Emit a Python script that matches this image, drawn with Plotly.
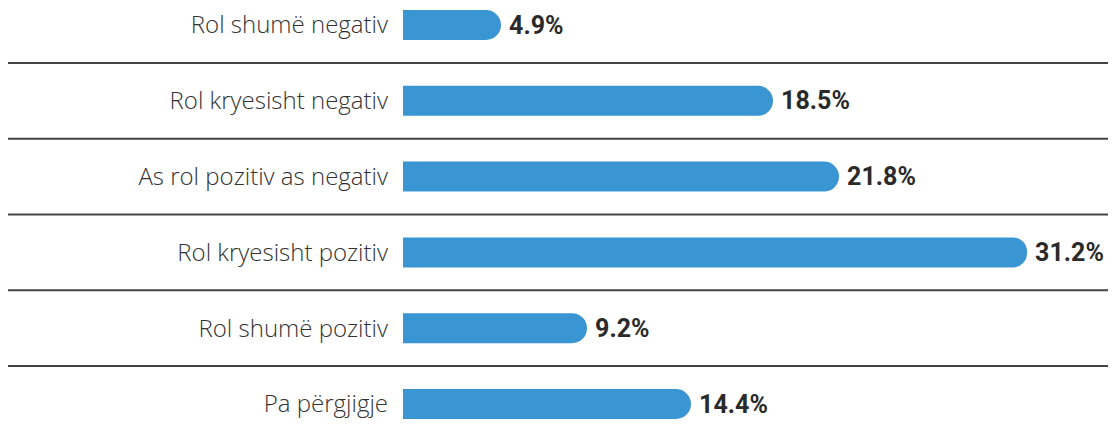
import plotly.graph_objects as go

categories = [
    "Rol shumë negativ",
    "Rol kryesisht negativ",
    "As rol pozitiv as negativ",
    "Rol kryesisht pozitiv",
    "Rol shumë pozitiv",
    "Pa përgjigje",
]
values = [4.9, 18.5, 21.8, 31.2, 9.2, 14.4]
value_labels = [f"\u2009{v:.1f}%" for v in values]

BAR_COLOR = "#3a95d3"
TEXT_COLOR = "#2a2a2a"

# page body has an 8px margin; figure fills the rest of the 1116x435 window
W, H = 1108, 427
bar_x0 = 395
px_per_unit = 20.0
xmax = (W - bar_x0) / px_per_unit
step = 75.8
first_center = 17

fig = go.Figure()
fig.add_trace(go.Bar(
    y=categories,
    x=values,
    orientation="h",
    marker=dict(color=BAR_COLOR, line=dict(width=0)),
    width=30 / step,
    text=value_labels,
    textposition="outside",
    textfont=dict(family="Roboto", size=25, color=TEXT_COLOR, weight="bold"),
    cliponaxis=False,
    hoverinfo="skip",
))

# separator lines between categories
for k in range(len(categories) - 1):
    fig.add_shape(
        type="line", xref="paper", yref="y",
        x0=-bar_x0 / (W - bar_x0), x1=1, y0=k + 0.5, y1=k + 0.5,
        line=dict(color="#444444", width=2),
        layer="below",
    )

fig.update_layout(
    width=W, height=H,
    margin=dict(l=0, r=0, t=0, b=0, pad=0),
    paper_bgcolor="white",
    plot_bgcolor="white",
    showlegend=False,
    barcornerradius=15,
    xaxis=dict(domain=[bar_x0 / W, 1], range=[0, xmax], visible=False, fixedrange=True),
    yaxis=dict(
        type="category",
        range=[5 + (H - (first_center + 5 * step)) / step, -first_center / step],
        showgrid=False, zeroline=False, showline=False,
        ticks="", ticklabelstandoff=14,
        tickfont=dict(family="Open Sans", size=24, color="#333333", weight=300),
        fixedrange=True,
    ),
)

fig.write_html("out.html")
